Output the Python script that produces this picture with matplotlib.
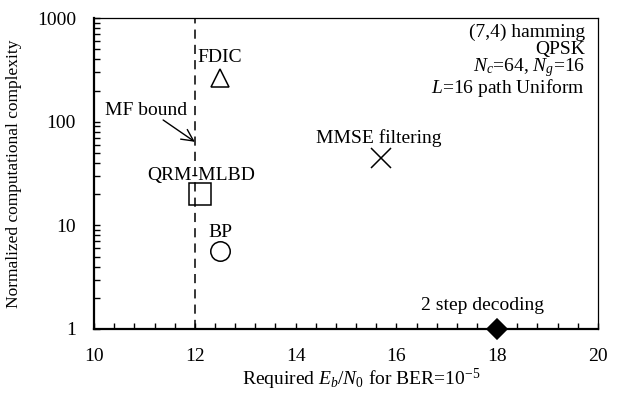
import numpy as np
import matplotlib
matplotlib.use('Agg')
from matplotlib import pyplot as plt
from matplotlib.ticker import FixedLocator, NullFormatter

plt.rcParams['font.family'] = 'Liberation Serif'
plt.rcParams['mathtext.fontset'] = 'custom'
plt.rcParams['mathtext.rm'] = 'Liberation Serif'
plt.rcParams['mathtext.it'] = 'Liberation Serif:italic'
plt.rcParams['font.size'] = 14

# schemes: required Eb/N0 and normalized complexity
schemes = ['FDIC', 'QRM-MLBD', 'BP', 'MMSE filtering', '2 step decoding']
ebn0 = [12.5, 12.1, 12.5, 15.7, 18.0]
complexity = [265, 20, 5.6, 45, 1.0]
markers = ['^', 's', 'o', 'x', 'D']
msizes = [13.5, 15.5, 14, 14, 10]
# label positions (data coords)
label_x = [12.5, 12.13, 12.5, 15.65, 17.7]
label_y = [420, 30, 8.5, 70, 1.7]

mf_bound = 12.0
mf_tip = (12.0, 64)
mf_tail = (11.37, 104)
mf_text = (11.03, 127)

xticks = [10, 12, 14, 16, 18, 20]
yticks = [1, 10, 100, 1000]

fig = plt.figure(figsize=(6.19, 3.94), dpi=100)
ax = fig.add_axes([0.152, 0.165, 0.814, 0.789])

ax.axvline(mf_bound, color='black', lw=1.1, ls=(0, (6, 4)), zorder=1)

for i in range(len(schemes)):
    face = 'black' if markers[i] == 'D' else 'none'
    ax.plot(ebn0[i], complexity[i], marker=markers[i], ms=msizes[i],
            mfc=face, mec='black', mew=1.1, ls='none', clip_on=False, zorder=3)
    ax.text(label_x[i], label_y[i], schemes[i], ha='center', va='center')

ax.text(mf_text[0], mf_text[1], 'MF bound', ha='center', va='center')
ax.annotate('', xy=mf_tip, xytext=mf_tail,
            arrowprops=dict(arrowstyle='->,head_length=0.6,head_width=0.3',
                            color='black', lw=1.0, shrinkA=0, shrinkB=0))

ax.set_yscale('log')
ax.set_xlim(10, 20)
ax.set_ylim(1, 1000)
ax.set_xticks(xticks)
ax.set_xticklabels([str(t) for t in xticks])
ax.xaxis.set_minor_locator(FixedLocator(np.arange(10, 20.01, 0.4)))
ax.set_yticks(yticks)
ax.set_yticklabels([str(t) for t in yticks])
ax.yaxis.set_minor_formatter(NullFormatter())
ax.tick_params(which='both', direction='in', length=4, width=1, labelsize=14)
ax.tick_params(which='both', top=False, right=False)
ax.tick_params(axis='x', pad=14)
ax.tick_params(axis='y', pad=13)

for s in ['left', 'bottom']:
    ax.spines[s].set_linewidth(1.6)
for s in ['top', 'right']:
    ax.spines[s].set_linewidth(0.9)

ax.set_xlabel('Required $E_b$/$N_0$ for BER=10$^{-5}$', fontsize=14)
ax.set_ylabel('Normalized computational complexity', fontsize=12.5)
ax.xaxis.set_label_coords(0.53, -0.122)
ax.yaxis.set_label_coords(-0.143, 0.5)

info = ['(7,4) hamming', 'QPSK', '$N_c$=64, $N_g$=16', '$L$=16 path Uniform']
info_y = [0.955, 0.9, 0.84, 0.775]
for t, yy in zip(info, info_y):
    ax.text(0.974, yy, t, transform=ax.transAxes, ha='right', va='center')

plt.savefig('out.png', dpi=100)
